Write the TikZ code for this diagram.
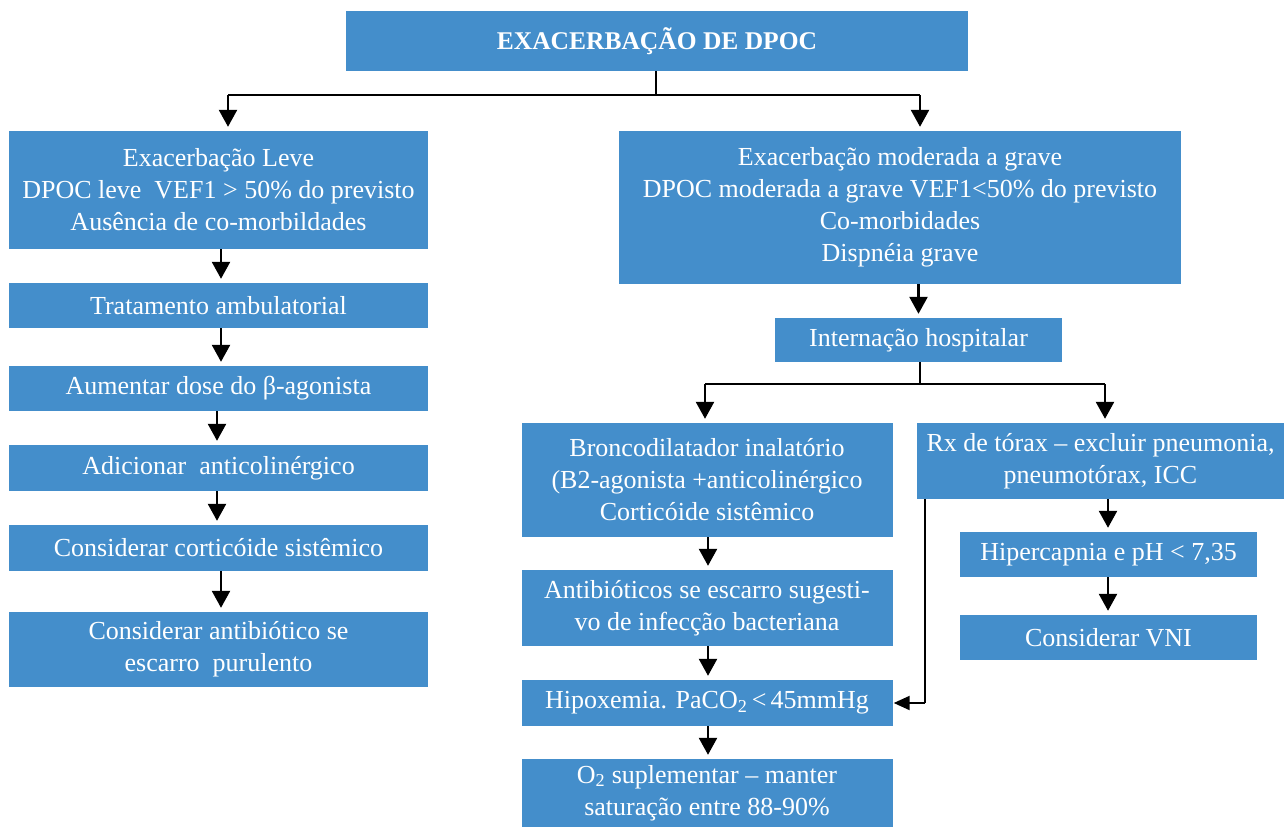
\documentclass[tikz,border=0pt]{standalone}
\usepackage{fontspec}
\setmainfont{Liberation Serif}
\usetikzlibrary{arrows.meta}
\definecolor{boxblue}{RGB}{68,142,203}
\tikzset{
  box/.style={fill=boxblue, text=white, inner sep=0pt, align=center, font=\fontsize{26}{32}\selectfont},
  conn/.style={line width=2pt, draw=black},
  arr/.style={line width=2.5pt, draw=black, -{Triangle[width=18pt,length=17pt]}, shorten >=4pt},
}
\begin{document}
\begin{tikzpicture}[x=1pt,y=-1pt]
\useasboundingbox (0,0) rectangle (1285,828);
% boxes
\node[box, minimum width=622pt, minimum height=60pt, font=\bfseries\fontsize{25.5}{30}\selectfont] (title) at (657,41) {EXACERBAÇÃO DE DPOC};
\node[box, minimum width=419pt, minimum height=118pt] (L1) at (218.5,190) {Exacerbação Leve\\DPOC leve\ \ VEF1 > 50\% do previsto\\Ausência de co-morbildades};
\node[box, minimum width=419pt, minimum height=45pt] (L2) at (218.5,305.5) {Tratamento ambulatorial};
\node[box, minimum width=419pt, minimum height=45pt] (L3) at (218.5,388.5) {Aumentar dose do β-agonista};
\node[box, minimum width=419pt, minimum height=46pt] (L4) at (218.5,468) {Adicionar\ \ anticolinérgico};
\node[box, minimum width=419pt, minimum height=46pt] (L5) at (218.5,548) {Considerar corticóide sistêmico};
\node[box, minimum width=419pt, minimum height=75pt] (L6) at (218.5,649.5) {Considerar antibiótico se\\escarro\ \ purulento};
\node[box, minimum width=562pt, minimum height=153pt] (R1) at (900,207.5) {Exacerbação moderada a grave\\DPOC moderada a grave VEF1<50\% do previsto\\Co-morbidades\\Dispnéia grave};
\node[box, minimum width=287pt, minimum height=44pt] (Int) at (918.5,340) {Internação hospitalar};
\node[box, minimum width=371pt, minimum height=114pt] (Br) at (707,480) {Broncodilatador inalatório\\(B2-agonista +anticolinérgico\\Corticóide sistêmico};
\node[box, minimum width=367pt, minimum height=76pt] (Rx) at (1100.5,461) {Rx de tórax – excluir pneumonia,\\pneumotórax, ICC};
\node[box, minimum width=297pt, minimum height=45pt] (Hc) at (1108.5,554.5) {Hipercapnia e pH < 7,35};
\node[box, minimum width=297pt, minimum height=45pt] (VNI) at (1108.5,637.5) {Considerar VNI};
\node[box, minimum width=371pt, minimum height=76pt] (Ab) at (707,608) {Antibióticos se escarro sugesti-\\vo de infecção bacteriana};
\node[box, minimum width=371pt, minimum height=46pt] (Hx) at (707,703) {Hipoxemia. PaCO\textsubscript{2}\,<\,45mmHg};
\node[box, minimum width=371pt, minimum height=68pt] (O2) at (707,793) {O\textsubscript{2} suplementar – manter\\saturação entre 88-90\%};
% top split
\coordinate (tb) at (656,95);
\coordinate (tl) at (228,95);
\coordinate (tr) at (920,95);
\draw[conn] (title.south -| tb) -- (tb);
\draw[conn] (tl) -- (tr);
\draw[arr] (tl) -- (tl |- L1.north);
\draw[arr] (tr) -- (tr |- R1.north);
% left chain
\draw[arr] (L1.south -| 221,0) -- (L2.north -| 221,0);
\draw[arr] (L2.south -| 221,0) -- (L3.north -| 221,0);
\draw[arr] (L3.south -| 217,0) -- (L4.north -| 217,0);
\draw[arr] (L4.south -| 217,0) -- (L5.north -| 217,0);
\draw[arr] (L5.south -| 221,0) -- (L6.north -| 221,0);
% right
\draw[arr] (R1.south -| Int.north) -- (Int.north);
\coordinate (ib) at (920,384);
\coordinate (il) at (705,384);
\coordinate (ir) at (1105,384);
\draw[conn] (Int.south -| ib) -- (ib);
\draw[conn] (il) -- (ir);
\draw[arr] (il) -- (il |- Br.north);
\draw[arr] (ir) -- (ir |- Rx.north);
\draw[arr] (Br.south -| 708,0) -- (Ab.north -| 708,0);
\draw[arr] (Ab.south -| 708,0) -- (Hx.north -| 708,0);
\draw[arr] (Hx.south -| 708,0) -- (O2.north -| 708,0);
\draw[arr] (Rx.south -| 1108,0) -- (Hc.north -| 1108,0);
\draw[arr] (Hc.south -| 1108,0) -- (VNI.north -| 1108,0);
\coordinate (rxd) at (925,703);
\draw[conn] (Rx.south -| rxd) -- (rxd);
\draw[line width=2pt, -{Triangle[width=14pt,length=16pt]}, shorten >=1pt] (rxd) -- (Hx.east);
\end{tikzpicture}
\end{document}
